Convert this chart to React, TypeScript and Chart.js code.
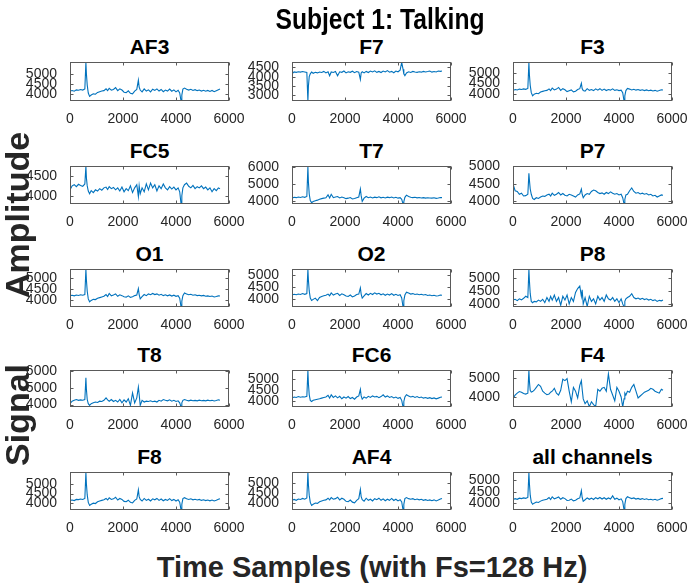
import React, { useEffect, useRef } from "react";
import { Chart, registerables } from "chart.js";
Chart.register(...registerables);

// ---------------- DATA ----------------
const X = [0, 80, 160, 240, 320, 400, 480, 560, 600, 620, 650, 690, 740, 800, 880, 960, 1040, 1120, 1200, 1280, 1360, 1420, 1480, 1560, 1640, 1720, 1800, 1880, 1960, 2040, 2120, 2200, 2280, 2360, 2440, 2520, 2580, 2610, 2650, 2720, 2800, 2880, 2960, 3040, 3120, 3200, 3280, 3360, 3440, 3520, 3600, 3680, 3760, 3840, 3920, 4000, 4080, 4140, 4190, 4220, 4260, 4320, 4400, 4480, 4560, 4640, 4720, 4800, 4880, 4960, 5040, 5120, 5200, 5280, 5360, 5440, 5520, 5600, 5660];

const AF3 = [4150, 4180, 4140, 4210, 4190, 4230, 4200, 4260, 5590, 5000, 4450, 4050, 3880, 3950, 4010, 3990, 4080, 4120, 4150, 4170, 4260, 4170, 4290, 4200, 4230, 4320, 4170, 4260, 4200, 4090, 4070, 4160, 4040, 4010, 4150, 4230, 4700, 4350, 4200, 4110, 4260, 4150, 4210, 4110, 4240, 4180, 4260, 4150, 4230, 4120, 4200, 4150, 4250, 4140, 4210, 4110, 4190, 4060, 3650, 3950, 4250, 4300, 4240, 4200, 4240, 4180, 4220, 4170, 4200, 4150, 4190, 4140, 4180, 4130, 4180, 4120, 4170, 4220, 4250];
const F7 = [4150, 4250, 4230, 4260, 4240, 4270, 4250, 4220, 2700, 3500, 4000, 4150, 4250, 4180, 4230, 4200, 4250, 4220, 4280, 4200, 4260, 4050, 4250, 4220, 4280, 4050, 4260, 4230, 4300, 4200, 4260, 4230, 4290, 4210, 4270, 4240, 3850, 4200, 4260, 4200, 4280, 4220, 4300, 4250, 4310, 4230, 4280, 4220, 4300, 4250, 4320, 4240, 4280, 4210, 4300, 4260, 4350, 4760, 4400, 4150, 4050, 4200, 4260, 4220, 4280, 4250, 4230, 4260, 4240, 4280, 4250, 4270, 4300, 4240, 4270, 4250, 4300, 4280, 4300];
const F3 = [4150, 4200, 4180, 4220, 4200, 4230, 4210, 4250, 5500, 4900, 4400, 4050, 3900, 3980, 4020, 4000, 4080, 4110, 4140, 4160, 4230, 4150, 4270, 4180, 4220, 4300, 4160, 4240, 4190, 4100, 4140, 4180, 4090, 4120, 4200, 4240, 4500, 4250, 4150, 4120, 4240, 4160, 4200, 4150, 4230, 4170, 4240, 4160, 4220, 4150, 4200, 4170, 4230, 4160, 4190, 4150, 4170, 4050, 3650, 3900, 4150, 4250, 4220, 4180, 4210, 4170, 4200, 4160, 4190, 4150, 4180, 4140, 4170, 4130, 4160, 4120, 4150, 4190, 4180];
const FC5 = [4150, 4250, 4280, 4230, 4290, 4260, 4240, 4300, 4745, 4450, 4250, 4120, 4050, 4130, 4080, 4150, 4120, 4180, 4140, 4200, 4220, 4160, 4230, 4180, 4210, 4150, 4200, 4120, 4220, 4100, 4180, 4130, 4250, 4080, 4200, 4280, 3980, 4250, 4050, 4200, 4100, 4300, 4150, 4320, 4200, 4280, 4120, 4250, 4180, 4300, 4200, 4150, 4230, 4170, 4220, 4150, 4200, 4100, 3790, 4000, 4200, 4280, 4320, 4240, 4200, 4260, 4180, 4230, 4200, 4250, 4180, 4220, 4150, 4200, 4100, 4180, 4130, 4200, 4180];
const T7 = [4150, 4200, 4180, 4220, 4190, 4230, 4200, 4250, 6050, 5100, 4400, 4000, 3880, 3950, 4000, 4030, 4080, 4120, 4150, 4170, 4350, 4160, 4380, 4180, 4220, 4250, 4160, 4220, 4180, 4120, 4150, 4190, 4100, 4130, 4180, 4220, 4700, 4300, 3950, 4150, 4250, 4180, 4220, 4160, 4210, 4180, 4230, 4170, 4200, 4160, 4210, 4180, 4220, 4160, 4200, 4150, 4180, 4080, 3800, 3950, 4200, 4330, 4250, 4200, 4180, 4200, 4170, 4190, 4160, 4180, 4150, 4170, 4160, 4150, 4170, 4140, 4160, 4190, 4180];
const P7 = [4500, 4300, 4280, 4200, 4230, 4150, 4160, 4200, 4800, 4600, 4350, 4200, 4080, 4050, 4100, 4080, 4120, 4150, 4140, 4180, 4200, 4150, 4230, 4170, 4200, 4250, 4180, 4220, 4170, 4150, 4200, 4180, 4150, 4120, 4180, 4210, 4350, 4200, 4100, 4180, 4220, 4200, 4280, 4320, 4300, 4250, 4220, 4240, 4200, 4250, 4220, 4270, 4230, 4200, 4220, 4180, 4200, 4100, 3920, 4050, 4180, 4200, 4300, 4380, 4280, 4230, 4250, 4210, 4230, 4200, 4220, 4180, 4200, 4150, 4170, 4120, 4150, 4180, 4170];
const O1 = [4200, 4220, 4190, 4230, 4210, 4240, 4220, 4250, 5400, 4900, 4400, 4050, 3920, 3980, 4030, 4020, 4080, 4110, 4140, 4170, 4250, 4160, 4300, 4190, 4230, 4280, 4170, 4240, 4200, 4150, 4130, 4190, 4120, 4150, 4200, 4230, 4520, 4250, 4050, 4150, 4250, 4200, 4280, 4240, 4300, 4250, 4280, 4220, 4260, 4200, 4240, 4190, 4230, 4180, 4220, 4170, 4200, 4080, 3680, 3950, 4200, 4320, 4280, 4240, 4260, 4220, 4240, 4200, 4220, 4190, 4210, 4170, 4190, 4160, 4180, 4140, 4160, 4190, 4180];
const O2 = [4180, 4210, 4190, 4220, 4200, 4240, 4210, 4240, 5250, 4800, 4350, 4050, 3950, 4000, 4050, 3950, 4080, 4120, 4150, 4170, 4220, 4150, 4270, 4180, 4220, 4250, 4160, 4230, 4190, 4140, 4120, 4180, 4100, 4140, 4200, 4220, 4480, 4220, 4050, 4140, 4240, 4180, 4250, 4200, 4270, 4220, 4250, 4190, 4230, 4170, 4220, 4180, 4240, 4170, 4210, 4160, 4190, 4060, 3680, 3950, 4180, 4300, 4260, 4220, 4240, 4200, 4220, 4190, 4210, 4180, 4200, 4160, 4180, 4150, 4170, 4140, 4150, 4180, 4170];
const P8 = [4150, 4180, 4130, 4200, 4160, 4220, 4300, 4250, 5350, 4900, 4400, 4100, 4050, 4100, 4080, 4150, 4100, 4180, 4050, 4250, 4100, 4300, 4150, 4350, 4100, 4250, 3950, 4300, 4150, 4350, 4000, 4250, 4100, 4450, 4600, 4700, 4300, 4550, 4000, 4250, 3900, 4300, 4100, 4200, 4000, 4300, 4150, 4250, 4100, 4350, 4200, 4150, 4250, 4100, 4200, 4050, 4200, 4000, 3880, 4100, 4200, 4250, 4300, 4400, 4250, 4200, 4230, 4180, 4220, 4170, 4200, 4150, 4180, 4130, 4160, 4100, 4140, 4120, 4150];
const T8 = [4050, 4200, 4250, 4300, 4250, 4280, 4260, 4300, 5600, 4900, 4300, 4050, 3950, 4050, 4100, 4150, 4120, 4200, 4180, 4250, 4400, 4280, 4200, 4300, 4180, 4250, 4150, 4300, 4100, 4280, 4150, 4350, 3950, 4700, 4100, 4400, 5050, 4600, 3950, 4250, 4150, 4200, 4180, 4220, 4170, 4200, 4150, 4250, 4200, 4300, 4250, 4220, 4280, 4200, 4250, 4180, 4220, 4100, 3850, 4100, 4250, 4300, 4250, 4220, 4260, 4230, 4250, 4220, 4260, 4230, 4250, 4220, 4260, 4230, 4250, 4210, 4240, 4280, 4250];
const FC6 = [4150, 4200, 4180, 4220, 4190, 4210, 4200, 4230, 5400, 4800, 4300, 4050, 4000, 4050, 4080, 4100, 4120, 4150, 4180, 4200, 4280, 4150, 4300, 4180, 4250, 4160, 4230, 4120, 4200, 4150, 4220, 4130, 4180, 4100, 4200, 4250, 4550, 4250, 4100, 4200, 4150, 4230, 4180, 4250, 4200, 4230, 4170, 4220, 4300, 4200, 4250, 4180, 4220, 4160, 4200, 4140, 4180, 4050, 3750, 4000, 4200, 4300, 4250, 4200, 4230, 4180, 4220, 4170, 4200, 4150, 4180, 4140, 4170, 4130, 4160, 4120, 4150, 4190, 4200];
const F4 = [3900, 4100, 4200, 4280, 4250, 4180, 4150, 4200, 5380, 4800, 4350, 4250, 4280, 4350, 4500, 4650, 4550, 4300, 4200, 4120, 4150, 4250, 4300, 4450, 4200, 4100, 4350, 4920, 4850, 4950, 4300, 3750, 4500, 4300, 3950, 4600, 4850, 4400, 3900, 3650, 3800, 3500, 3750, 3600, 3500, 4400, 4300, 4450, 4500, 4300, 5200, 4400, 4100, 3800, 4500, 4300, 4000, 3480, 3900, 4200, 4100, 4300, 4250, 4500, 4650, 4300, 3950, 4050, 4150, 4250, 4300, 4350, 4450, 4400, 4300, 4250, 4200, 4400, 4350];
const F8 = [4150, 4170, 4140, 4200, 4190, 4220, 4200, 4250, 5580, 4980, 4430, 4050, 3890, 3950, 4010, 3990, 4080, 4120, 4150, 4180, 4250, 4170, 4280, 4200, 4230, 4310, 4170, 4250, 4200, 4100, 4080, 4160, 4050, 4020, 4150, 4220, 4690, 4340, 4200, 4120, 4250, 4150, 4210, 4120, 4230, 4180, 4250, 4150, 4220, 4130, 4200, 4150, 4240, 4140, 4200, 4120, 4180, 4060, 3660, 3950, 4240, 4290, 4230, 4200, 4230, 4180, 4210, 4170, 4200, 4150, 4180, 4140, 4170, 4130, 4170, 4120, 4160, 4210, 4240];
const AF4 = [4150, 4190, 4150, 4210, 4190, 4240, 4200, 4260, 5500, 4900, 4400, 4050, 3900, 3960, 4020, 4000, 4080, 4120, 4150, 4170, 4250, 4170, 4280, 4200, 4230, 4300, 4170, 4250, 4200, 4100, 4080, 4160, 4060, 4030, 4150, 4230, 4680, 4330, 4180, 4110, 4250, 4150, 4200, 4120, 4230, 4180, 4250, 4150, 4220, 4130, 4200, 4150, 4240, 4140, 4200, 4120, 4180, 4070, 3680, 3950, 4230, 4280, 4230, 4200, 4230, 4180, 4210, 4170, 4200, 4150, 4180, 4140, 4170, 4130, 4170, 4120, 4160, 4210, 4240];
const ALL = [4150, 4200, 4170, 4220, 4200, 4230, 4210, 4250, 5350, 4850, 4350, 4050, 3950, 4000, 4050, 4030, 4090, 4130, 4150, 4170, 4250, 4160, 4280, 4190, 4230, 4270, 4170, 4240, 4200, 4120, 4130, 4180, 4100, 4130, 4190, 4230, 4550, 4250, 4080, 4150, 4230, 4170, 4220, 4160, 4240, 4190, 4250, 4180, 4240, 4170, 4230, 4180, 4320, 4170, 4220, 4150, 4190, 4070, 3700, 3950, 4200, 4280, 4240, 4200, 4230, 4180, 4210, 4170, 4200, 4160, 4190, 4150, 4170, 4140, 4170, 4130, 4160, 4200, 4210];

const CHANNELS = ["AF3", "F7", "F3", "FC5", "T7", "P7", "O1", "O2", "P8", "T8", "FC6", "F4", "F8", "AF4", "all channels"];
const SERIES = [AF3, F7, F3, FC5, T7, P7, O1, O2, P8, T8, FC6, F4, F8, AF4, ALL];
const Y_MIN = [3650, 2700, 3650, 3790, 3800, 3920, 3680, 3680, 3880, 3850, 3750, 3480, 3660, 3680, 3700];
const Y_MAX = [5590, 4760, 5500, 4745, 6050, 5000, 5400, 5250, 5350, 6050, 5400, 5380, 5580, 5500, 5350];
const T_A = [4000, 4500, 5000];
const T_B = [4000, 5000, 6000];
const Y_TICKS = [T_A, [3000, 3500, 4000, 4500], T_A, [4000, 4500], T_B, T_A, T_A, T_A, T_A, T_B, T_A, [4000, 5000], T_A, T_A, T_A];
const X_TICKS = [0, 2000, 4000, 6000];
const X_MIN = 0;
const X_MAX = 6000;

const MAIN_TITLE = "Subject 1: Talking";
const X_LABEL = "Time Samples (with Fs=128 Hz)";
const Y_LABEL_A = "Amplitude";
const Y_LABEL_B = "Signal";

// ---------------- LAYOUT ----------------
const COL_LEFT = [70, 292, 513];
const ROW_TOP = [59, 163, 266, 367, 469];
const ROW_H = [42, 41, 41, 40, 41];
const BOX_W = 159;
const AXIS_W = 60;
const PAD_R = 24;
const PAD_T = 10;
const AXIS_H = 26;
const FONT = "'Liberation Sans', Arial, sans-serif";
const LINE_COLOR = "#0072BD";
const AXIS_COLOR = "#262626";
const BOX_COLOR = "#5a5a5a";

const boxPlugin = {
  id: "matlabBox",
  afterDraw(chart: any) {
    const { ctx, chartArea } = chart;
    const l = Math.round(chartArea.left) + 0.5;
    const r = Math.round(chartArea.right) - 0.5;
    const t = Math.round(chartArea.top) + 0.5;
    const b = Math.round(chartArea.bottom) - 0.5;
    ctx.save();
    ctx.strokeStyle = BOX_COLOR;
    ctx.lineWidth = 1;
    ctx.strokeRect(l, t, r - l, b - t);
    const xs = chart.scales.x;
    const ys = chart.scales.y;
    ctx.beginPath();
    xs.ticks.forEach((tk: any) => {
      const px = Math.round(xs.getPixelForValue(tk.value)) + 0.5;
      ctx.moveTo(px, b);
      ctx.lineTo(px, b - 3);
      ctx.moveTo(px, t);
      ctx.lineTo(px, t + 3);
    });
    ys.ticks.forEach((tk: any) => {
      const py = Math.round(ys.getPixelForValue(tk.value)) + 0.5;
      ctx.moveTo(l, py);
      ctx.lineTo(l + 3, py);
      ctx.moveTo(r, py);
      ctx.lineTo(r - 3, py);
    });
    ctx.stroke();
    ctx.restore();
  },
};

const plain = (v: any) => String(v);

function Panel({ idx }: { idx: number }) {
  const ref = useRef<HTMLCanvasElement>(null);
  const row = Math.floor(idx / 3);
  const col = idx % 3;
  const w = AXIS_W + BOX_W + PAD_R;
  const h = PAD_T + ROW_H[row] + AXIS_H;
  useEffect(() => {
    if (!ref.current) return;
    const values = SERIES[idx];
    const chart = new Chart(ref.current, {
      type: "line",
      data: {
        datasets: [
          {
            data: X.map((x, i) => ({ x, y: values[i] })),
            borderColor: LINE_COLOR,
            borderWidth: 1.1,
            pointRadius: 0,
            tension: 0,
            fill: false,
          },
        ],
      },
      options: {
        animation: false,
        responsive: false,
        devicePixelRatio: 1,
        layout: { padding: { left: 0, right: PAD_R, top: PAD_T, bottom: 0 } },
        plugins: {
          legend: { display: false },
          tooltip: { enabled: false },
          title: { display: false },
        },
        scales: {
          x: {
            type: "linear",
            min: X_MIN,
            max: X_MAX,
            afterBuildTicks: (a: any) => {
              a.ticks = X_TICKS.map((v) => ({ value: v }));
            },
            afterFit: (s: any) => {
              s.height = AXIS_H;
            },
            grid: { display: false },
            border: { display: false },
            ticks: {
              autoSkip: false,
              maxRotation: 0,
              padding: 2,
              color: AXIS_COLOR,
              font: { family: FONT, size: 14 },
              callback: plain,
            },
          },
          y: {
            type: "linear",
            min: Y_MIN[idx],
            max: Y_MAX[idx],
            afterBuildTicks: (a: any) => {
              a.ticks = Y_TICKS[idx].map((v) => ({ value: v }));
            },
            afterFit: (s: any) => {
              s.width = AXIS_W;
            },
            grid: { display: false },
            border: { display: false },
            ticks: {
              autoSkip: false,
              padding: 5,
              color: AXIS_COLOR,
              font: { family: FONT, size: 14 },
              callback: plain,
            },
          },
        },
      },
      plugins: [boxPlugin],
    } as any);
    return () => chart.destroy();
  }, [idx]);
  return (
    <canvas
      ref={ref}
      width={w}
      height={h}
      style={{
        position: "absolute",
        left: COL_LEFT[col] - AXIS_W,
        top: ROW_TOP[row] - PAD_T,
        width: w,
        height: h,
      }}
    />
  );
}

function Text({
  text,
  cx,
  baseline,
  size,
  color,
  sx = 1,
}: {
  text: string;
  cx: number;
  baseline: number;
  size: number;
  color: string;
  sx?: number;
}) {
  return (
    <div
      style={{
        position: "absolute",
        left: cx,
        top: baseline - 0.8465 * size,
        fontFamily: FONT,
        fontWeight: "bold",
        fontSize: size,
        lineHeight: `${size}px`,
        color,
        whiteSpace: "nowrap",
        transform: `translateX(-50%) scaleX(${sx})`,
      }}
    >
      {text}
    </div>
  );
}

function VText({ text, cx, cy, size }: { text: string; cx: number; cy: number; size: number }) {
  return (
    <div
      style={{
        position: "absolute",
        left: cx,
        top: cy,
        fontFamily: FONT,
        fontWeight: "bold",
        fontSize: size,
        lineHeight: `${size}px`,
        color: AXIS_COLOR,
        whiteSpace: "nowrap",
        transform: "translate(-50%, -50%) rotate(-90deg)",
      }}
    >
      {text}
    </div>
  );
}

export default function App() {
  return (
    <div
      style={{
        position: "absolute",
        left: 0,
        top: 0,
        width: 694,
        height: 585,
        background: "#fff",
        overflow: "hidden",
      }}
    >
      {CHANNELS.map((name, i) => {
        const row = Math.floor(i / 3);
        const col = i % 3;
        return (
          <Text
            key={"t" + i}
            text={name}
            cx={COL_LEFT[col] + BOX_W / 2}
            baseline={ROW_TOP[row] - 5}
            size={21}
            color="#000"
          />
        );
      })}
      {CHANNELS.map((_, i) => (
        <Panel key={"p" + i} idx={i} />
      ))}
      <Text text={MAIN_TITLE} cx={380} baseline={30} size={29} color="#000" sx={0.85} />
      <Text text={X_LABEL} cx={372} baseline={578} size={29} color={AXIS_COLOR} />
      <VText text={Y_LABEL_A} cx={17} cy={215} size={34} />
      <VText text={Y_LABEL_B} cx={17} cy={415} size={34} />
    </div>
  );
}
